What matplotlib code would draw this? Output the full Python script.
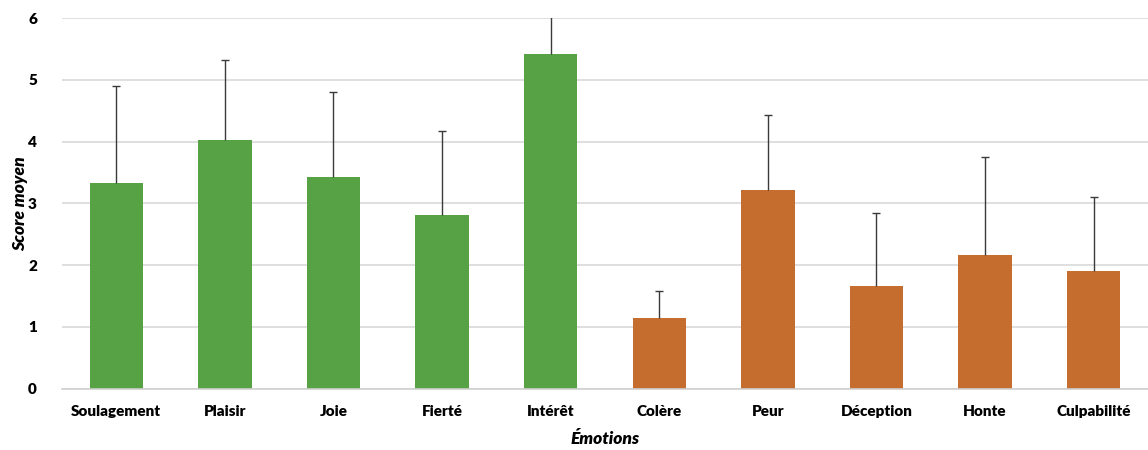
import numpy as np
import matplotlib
matplotlib.use("Agg")
import matplotlib.pyplot as plt

emotions = ["Soulagement", "Plaisir", "Joie", "Fierté", "Intérêt",
            "Colère", "Peur", "Déception", "Honte", "Culpabilité"]
means = [3.33, 4.03, 3.43, 2.82, 5.42, 1.15, 3.22, 1.67, 2.17, 1.91]
err_up = [1.57, 1.29, 1.38, 1.35, 1.20, 0.44, 1.21, 1.18, 1.58, 1.20]
colors = ["#56a245"] * 5 + ["#c56d2f"] * 5

plt.rcParams["font.family"] = ["Lato", "DejaVu Sans"]

fig = plt.figure(figsize=(11.48, 4.5), dpi=100)
ax = fig.add_axes([0.054, 0.136, 0.946, 0.824])

x = np.arange(len(emotions))
ax.bar(x, means, 0.49, color=colors, zorder=2)
eb = ax.errorbar(x, means, yerr=[np.zeros(len(means)), err_up], fmt="none",
                 ecolor="#3a3a3a", elinewidth=1.0, capsize=3, capthick=1.0, zorder=3)
eb[1][0].set_visible(False)  # hide lower caps (one-sided bars)

ax.set_ylim(0, 6)
ax.set_xlim(-0.5, len(emotions) - 0.5)
ax.set_yticks(range(7))
ax.yaxis.grid(True, color="#d9d9d9", lw=1.2, zorder=0)
ax.set_axisbelow(True)
for s in ["top", "right", "left"]:
    ax.spines[s].set_visible(False)
ax.spines["bottom"].set_color("#d0d0d0")
ax.spines["bottom"].set_linewidth(1.2)
ax.tick_params(axis="both", length=0, labelsize=11)
ax.tick_params(axis="x", pad=12)
ax.tick_params(axis="y", pad=18)
ax.set_xticks(x)
ax.set_xticklabels(emotions, fontweight="heavy")
for lab in ax.get_yticklabels():
    lab.set_fontweight("heavy")
ax.set_ylabel("Score moyen", fontsize=12.5, fontweight="heavy", style="italic", labelpad=0)
ax.set_xlabel("Émotions", fontsize=12.5, fontweight="heavy", style="italic", labelpad=9)

fig.savefig("out.png", dpi=100)
